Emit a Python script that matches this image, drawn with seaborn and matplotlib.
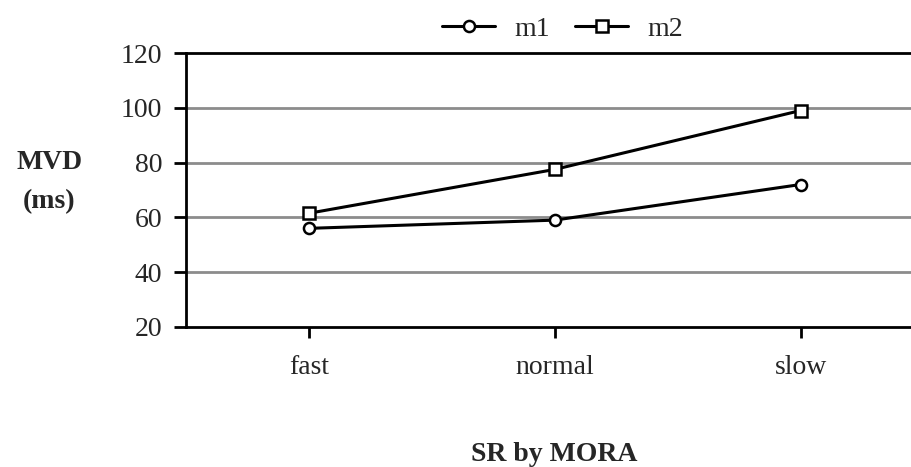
import matplotlib
matplotlib.use("Agg")
import matplotlib.pyplot as plt
import seaborn as sns
import pandas as pd

categories = ["fast", "normal", "slow"]
m1 = [56, 59, 72]
m2 = [61.5, 77.5, 99]
series_names = ["m1", "m2"]
yticks = [20, 40, 60, 80, 100, 120]

df = pd.DataFrame({
    "SR": categories * 2,
    "MVD": m1 + m2,
    "series": [series_names[0]] * 3 + [series_names[1]] * 3,
})
df["x"] = df["SR"].map({c: i for i, c in enumerate(categories)})

sns.set_theme(style="white")
plt.rcParams["font.family"] = ["Liberation Serif", "DejaVu Serif"]

FS = 20

fig = plt.figure(figsize=(9.11, 4.67), dpi=100)
ax = fig.add_axes([0.204, 0.2998, 0.8097, 0.5867])

sns.lineplot(data=df, x="x", y="MVD", style="series", color="black",
             markers={"m1": "o", "m2": "s"}, dashes=False, linewidth=2.2,
             markersize=8, markerfacecolor="white", markeredgecolor="black",
             markeredgewidth=1.8, ax=ax, legend=True)

ax.set_xlim(-0.5, 2.5)
ax.set_ylim(20, 120)
ax.set_yticks(yticks)
ax.set_xticks(range(len(categories)))
ax.set_xticklabels(categories)
for y in yticks[1:-1]:
    ax.axhline(y, color="#8c8c8c", linewidth=2, zorder=0)

for s in ["left", "bottom", "top"]:
    ax.spines[s].set_visible(True)
    ax.spines[s].set_color("black")
    ax.spines[s].set_linewidth(2)
ax.spines["right"].set_visible(False)

ax.tick_params(axis="y", which="major", direction="out", length=9, width=2,
               color="black", labelsize=FS, pad=8, left=True)
ax.tick_params(axis="x", which="major", direction="out", length=8, width=2,
               color="black", labelsize=FS, pad=12, bottom=True)

ax.set_xlabel("SR by MORA", fontsize=FS, fontweight="bold", va="center")
ax.set_ylabel("MVD\n(ms)", fontsize=FS, fontweight="bold", rotation=0,
              va="center", ha="center", linespacing=1.75)
ax.yaxis.set_label_coords(-0.185, 0.53)
ax.xaxis.set_label_coords(0.5, -0.465)

handles, labels = ax.get_legend_handles_labels()
ax.legend(handles, labels, loc="lower center", bbox_to_anchor=(0.511, 1.0),
          ncol=2, frameon=False, fontsize=FS, handlelength=1.9,
          columnspacing=0.9, handletextpad=0.7, borderaxespad=0.0)

fig.savefig("out.png", dpi=100)
